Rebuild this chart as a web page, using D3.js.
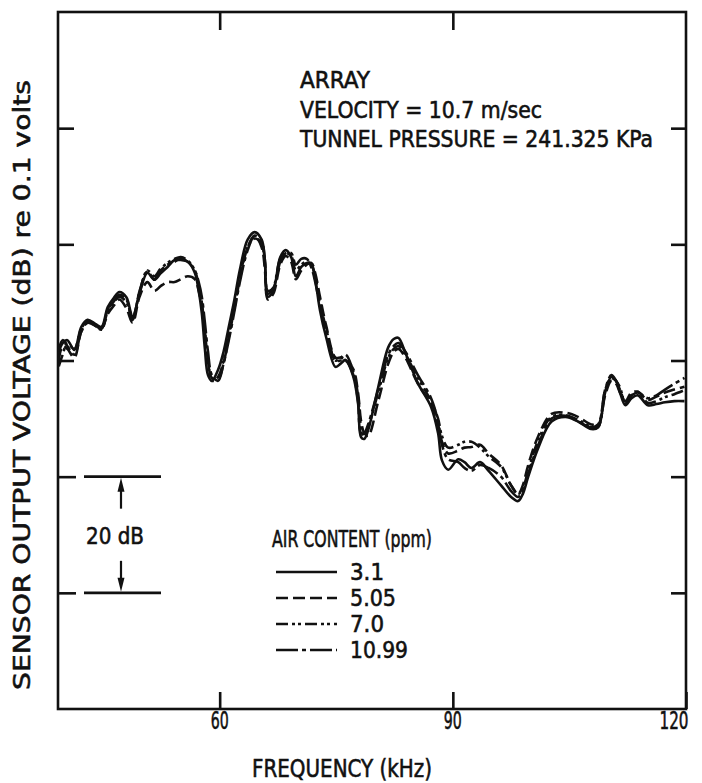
<!DOCTYPE html>
<html><head><meta charset="utf-8">
<script src="https://cdn.jsdelivr.net/npm/d3@7"></script>
<style>
html,body{margin:0;padding:0;background:#fff;}
svg text{font-family:"DejaVu Sans Condensed","Liberation Sans Narrow","DejaVu Sans",sans-serif;fill:#111;stroke:#111;stroke-width:0.55px;}
</style></head>
<body>
<svg id="chart" width="702" height="783"></svg>
<script>
// ---- data ----
const freq = [39.3,39.8,40.4,41.3,42.2,43.0,44.0,44.8,45.6,46.4,47.1,48.0,48.8,49.7,50.7,51.6,52.4,53.3,54.2,55.0,55.9,56.8,57.3,57.7,58.1,58.5,59.0,59.8,60.5,61.1,61.9,62.6,63.6,64.5,65.4,65.8,66.2,66.9,67.8,68.5,69.2,69.8,70.5,71.2,71.8,72.3,72.9,73.7,74.9,75.6,76.2,77.2,77.8,78.2,78.6,79.1,80.4,81.7,82.4,83.0,83.9,85.5,87.2,88.1,88.6,89.4,90.7,91.5,92.4,93.5,94.6,96.2,97.5,98.4,99.0,99.7,101.0,102.7,104.5,106.1,107.8,108.7,109.6,110.4,111.0,111.5,112.2,113.0,113.8,115.1,116.2,117.3,118.5,119.8];
const air31  = [61.5,63.0,63.5,61.8,65.8,67.0,66.3,65.8,69.2,70.8,71.8,70.9,67.5,71.6,75.1,73.9,75.0,76.1,77.3,77.3,77.0,75.1,72.0,68.2,62.0,57.5,56.5,58.4,61.5,65.3,70.5,75.6,80.8,82.1,80.8,77.5,71.0,72.0,77.8,79.0,77.8,74.5,76.1,76.8,76.5,73.9,68.7,64.0,58.9,59.5,60.1,57.2,52.7,46.8,46.5,48.0,55.4,62.3,63.7,63.9,61.3,56.1,52.0,47.5,42.8,41.2,43.0,42.5,41.5,42.5,41.0,38.5,36.5,35.8,37.0,40.0,45.0,49.5,50.3,49.5,48.2,48.5,54.5,57.2,56.5,54.5,52.3,53.5,54.0,52.3,52.5,52.8,53.0,53.0];
const air505 = [60.0,62.5,62.0,60.5,65.0,66.5,66.0,65.5,68.0,69.5,70.5,69.0,66.5,71.0,73.5,72.0,72.8,73.5,73.5,74.0,74.5,74.0,72.0,69.5,65.0,60.0,57.0,56.8,59.5,63.5,69.0,74.0,79.5,81.5,79.5,76.0,70.5,71.5,76.5,78.0,77.0,74.0,75.5,76.5,76.8,75.0,71.0,66.0,60.5,60.5,60.2,58.5,54.5,49.5,47.5,47.0,53.0,59.5,61.5,62.0,60.5,56.0,52.5,49.0,46.0,44.0,44.5,45.0,45.1,45.5,44.0,42.0,38.5,37.0,38.5,42.0,47.0,50.8,51.0,50.3,49.0,49.0,54.0,56.5,56.0,54.5,53.0,54.5,54.6,53.2,53.8,54.5,55.0,55.5];
const air70  = [59.0,61.0,63.0,62.0,65.5,66.8,66.0,65.3,68.5,70.0,71.0,70.0,67.5,71.8,75.5,74.5,75.8,76.8,77.5,77.8,77.2,75.5,73.0,70.0,65.0,60.0,56.5,57.2,60.0,64.0,69.5,74.5,79.5,81.0,80.0,77.0,71.5,72.5,77.5,78.5,78.0,75.5,76.5,77.0,76.5,74.5,70.0,65.5,60.0,60.5,61.0,58.0,54.0,48.5,47.0,48.5,54.5,60.5,62.0,62.5,61.0,57.0,53.0,50.0,47.0,45.0,45.5,46.0,46.0,45.0,43.5,41.7,38.5,37.0,38.0,41.0,46.3,50.3,50.6,49.8,48.6,48.6,54.9,57.0,56.5,55.4,52.7,54.0,54.6,52.7,53.0,53.7,54.2,54.9];
const air1099= [62.0,63.5,62.5,61.0,65.0,66.5,66.0,65.5,68.8,70.2,71.3,70.5,67.0,72.0,75.3,74.0,75.5,76.5,77.0,77.5,77.0,75.5,73.5,71.0,66.5,61.5,57.5,56.5,59.5,63.0,68.5,73.5,79.0,81.5,80.5,77.5,72.0,72.5,77.0,78.5,78.5,76.5,77.5,77.5,76.0,73.5,69.5,65.0,60.0,60.0,60.0,57.5,53.0,47.5,47.5,49.0,55.0,61.0,62.5,63.0,61.5,57.5,53.5,49.5,45.5,43.0,42.5,41.5,41.0,42.0,41.5,40.0,37.5,36.5,37.5,40.5,45.5,50.0,50.5,49.5,48.5,49.0,55.0,57.5,56.5,55.0,53.0,54.0,54.5,53.5,54.0,55.0,56.0,57.0];
const seriesNames = ["3.1","5.05","7.0","10.99"];
const seriesValues = [air31, air505, air70, air1099];
const seriesDash = ["none","12,5","12,4,3,3,3,4","22,4,4,4"];
const xTicks = [60, 90, 120];
const xTickLabels = ["60", "90", "120"];
const yTicks = [20, 40, 60, 80, 100];
const scaleMarks = [40, 20];   // the 20 dB indicator
const infoLines = ["ARRAY", "VELOCITY = 10.7 m/sec", "TUNNEL PRESSURE = 241.325 KPa"];

// ---- layout ----
const svg = d3.select("#chart");
const L = 58, R = 686, T = 12, B = 709;
const x = d3.scaleLinear().domain([39.2, 120]).range([L, R]);
const y = d3.scaleLinear().domain([0, 120]).range([B, T]);

function txt(px, py, s, w, size, anchor) {
  const t = svg.append("text").attr("x", px).attr("y", py).text(s)
    .attr("font-size", size).attr("text-anchor", anchor || "start");
  if (w) t.attr("textLength", w).attr("lengthAdjust", "spacingAndGlyphs");
  return t;
}

// frame
svg.append("rect").attr("x", L).attr("y", T).attr("width", R - L).attr("height", B - T)
  .attr("fill", "none").attr("stroke", "#111").attr("stroke-width", 2.6);

// axes ticks (inward)
const axB = svg.append("g").attr("transform", `translate(0,${B})`)
  .call(d3.axisBottom(x).tickValues(xTicks).tickSize(-17).tickFormat(""));
const axT = svg.append("g").attr("transform", `translate(0,${T})`)
  .call(d3.axisTop(x).tickValues(xTicks.slice(0, 2)).tickSize(-18).tickFormat(""));
const axL = svg.append("g").attr("transform", `translate(${L},0)`)
  .call(d3.axisLeft(y).tickValues(yTicks.filter(v => !scaleMarks.includes(v))).tickSize(-16).tickFormat(""));
const axLs = svg.append("g").attr("transform", `translate(${L},0)`)
  .call(d3.axisLeft(y).tickValues(scaleMarks).tickSize(-18).tickFormat(""));
const axR = svg.append("g").attr("transform", `translate(${R},0)`)
  .call(d3.axisRight(y).tickValues(yTicks).tickSize(-15).tickFormat(""));
[axB, axT, axL, axLs, axR].forEach(g => {
  g.select(".domain").remove();
  g.selectAll(".tick line").attr("stroke", "#111").attr("stroke-width", 2.6);
});

// x tick labels
const tickLabW = [18, 18, 29];
xTicks.forEach((v, i) => {
  txt(i === 2 ? x(v) - 12 : x(v), 729, xTickLabels[i], tickLabW[i], 24, "middle");
});

// axis titles
txt(342, 777, "FREQUENCY (kHz)", 180, 24, "middle");
svg.append("text").attr("transform", "translate(30,385) rotate(-90)")
  .attr("text-anchor", "middle").attr("font-size", 23)
  .attr("textLength", 610).attr("lengthAdjust", "spacingAndGlyphs")
  .text("SENSOR OUTPUT VOLTAGE (dB) re 0.1 volts");

// 20 dB scale indicator
scaleMarks.forEach(v => {
  svg.append("line").attr("x1", 84).attr("x2", 161).attr("y1", y(v)).attr("y2", y(v))
    .attr("stroke", "#111").attr("stroke-width", 2.6);
});
const ax = 121;
svg.append("line").attr("x1", ax).attr("x2", ax).attr("y1", y(40) + 12).attr("y2", y(40) + 32)
  .attr("stroke", "#111").attr("stroke-width", 2.2);
svg.append("path").attr("d", `M${ax},${y(40) + 1} L${ax - 3.5},${y(40) + 15} L${ax + 3.5},${y(40) + 15} Z`).attr("fill", "#111");
svg.append("line").attr("x1", ax).attr("x2", ax).attr("y1", y(20) - 32).attr("y2", y(20) - 12)
  .attr("stroke", "#111").attr("stroke-width", 2.2);
svg.append("path").attr("d", `M${ax},${y(20) - 1} L${ax - 3.5},${y(20) - 15} L${ax + 3.5},${y(20) - 15} Z`).attr("fill", "#111");
txt(115, 544, "20 dB", 58, 23, "middle");

// info text
const infoW = [70, 242, 353];
infoLines.forEach((s, i) => txt(300, 88 + i * 29.5, s, infoW[i], 23));

// curves
const line = d3.line().x((d, i) => x(freq[i])).y(d => y(d)).curve(d3.curveCatmullRom.alpha(0.5));
seriesValues.forEach((vals, k) => {
  svg.append("path").attr("d", line(vals)).attr("fill", "none")
    .attr("stroke", "#111").attr("stroke-width", 2.6)
    .attr("stroke-linejoin", "round")
    .attr("stroke-dasharray", seriesDash[k]);
});

// legend
txt(272, 547, "AIR CONTENT (ppm)", 160, 23);
const legW = [34, 46, 34, 58];
seriesNames.forEach((n, k) => {
  const by = 580 + k * 26;
  svg.append("line").attr("x1", 276).attr("x2", 337).attr("y1", by - 8).attr("y2", by - 8)
    .attr("stroke", "#111").attr("stroke-width", 2.6).attr("stroke-dasharray", seriesDash[k]);
  txt(350, by, n, legW[k], 23);
});
</script>
</body></html>
